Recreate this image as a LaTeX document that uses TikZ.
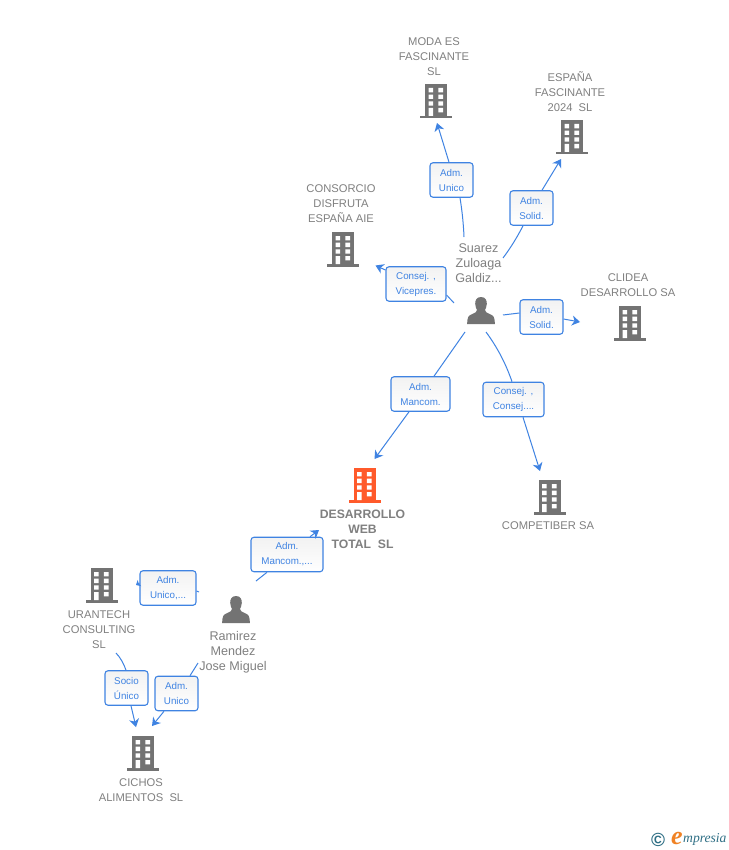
\documentclass[tikz,border=0pt]{standalone}
\usepackage{fontspec}
\setmainfont{Liberation Sans}
\newfontfamily\logofont{Liberation Serif}
\usetikzlibrary{arrows.meta}
\definecolor{iconc}{HTML}{737373}
\definecolor{orangec}{HTML}{FF5A2B}
\definecolor{txtc}{HTML}{808080}
\definecolor{linkc}{HTML}{3F83E2}
\definecolor{logot}{HTML}{2F6F85}
\definecolor{logoo}{HTML}{F08224}
\tikzset{
  pics/bldg/.style={code={
    \fill[#1] (-11,0) rectangle (11,33);
    \fill[#1] (-16,32) rectangle (16,34.5);
    \fill[white] (-7.3,4) rectangle (-2.8,8.3) (2.4,4) rectangle (7,8.3)
      (-7.3,10.6) rectangle (-2.8,15) (2.4,10.6) rectangle (7,15)
      (-7.3,17.3) rectangle (-2.8,21.7) (2.4,17.3) rectangle (7,21.7)
      (-7.3,24) rectangle (-2.8,32) (2.4,24) rectangle (7,28.3);
  }},
  pics/persona/.style={code={
    \fill[iconc] (0,0) .. controls (4.5,0) and (6,3.5) .. (5.8,7)
      .. controls (5.5,10) and (4.6,12) .. (4,13)
      .. controls (4,15) and (6,16) .. (9,17.2)
      .. controls (12.5,18.5) and (13.8,20) .. (13.8,27)
      -- (-13.8,27)
      .. controls (-13.8,20) and (-12.5,18.5) .. (-9,17.2)
      .. controls (-6,16) and (-4,15) .. (-4,13)
      .. controls (-4.6,12) and (-5.5,10) .. (-5.8,7)
      .. controls (-6,3.5) and (-4.5,0) .. (0,0) -- cycle;
  }},
  caption/.style={text=txtc,align=center,inner sep=0pt,font=\fontsize{11.2}{15}\selectfont},
  personcap/.style={text=txtc,align=center,inner sep=0pt,font=\fontsize{12.6}{15}\selectfont},
  maincap/.style={text=txtc,align=center,inner sep=0pt,font=\fontsize{12.2}{15}\selectfont\bfseries},
  rolebox/.style={draw=linkc,line width=1.1pt,rounded corners=3pt,top color=black!5,bottom color=white,
    text=linkc,align=center,inner sep=0pt,font=\fontsize{9.8}{15}\selectfont},
  link/.style={draw=linkc,line width=1pt},
  arrowlink/.style={link,-{Stealth[length=8pt,width=10pt,inset=2.5pt]}},
}
\begin{document}
\begin{tikzpicture}[x=1pt,y=-1pt]
\useasboundingbox (0,0) rectangle (728,850);
\fill[white] (0,0) rectangle (728,850);
% icons
\pic at (436,84) {bldg={iconc}};
\pic at (572,120) {bldg={iconc}};
\pic at (343,232) {bldg={iconc}};
\pic at (630,306) {bldg={iconc}};
\pic at (364.5,468) {bldg={orangec}};
\pic at (549.5,480) {bldg={iconc}};
\pic at (101.5,568) {bldg={iconc}};
\pic at (143,736) {bldg={iconc}};
\pic at (481,297) {persona};
\pic at (236,596) {persona};
% captions
\node[caption] (moda) at (434,56.5) {MODA ES\\FASCINANTE\\SL};
\node[caption] (espana) at (570,91.5) {ESPAÑA\\FASCINANTE\\2024\ \ SL};
\node[caption] (consorcio) at (341,203.5) {CONSORCIO\\DISFRUTA\\ESPAÑA AIE};
\node[caption] (clidea) at (628,285) {CLIDEA\\DESARROLLO SA};
\node[maincap] (desarrollo) at (362.5,529) {DESARROLLO\\WEB\\TOTAL\ \ SL};
\node[caption] (competiber) at (548,526) {COMPETIBER SA};
\node[caption] (urantech) at (99,629.5) {URANTECH\\CONSULTING\\SL};
\node[caption] (cichos) at (141,790) {CICHOS\\ALIMENTOS\ \ SL};
\node[personcap] (suarez) at (478.5,263) {Suarez\\Zuloaga\\Galdiz...};
\node[personcap] (ramirez) at (233,652) {Ramirez\\Mendez\\Jose Miguel};
% role boxes
\node[rolebox,minimum width=43pt,minimum height=34.5pt] (r1) at (451.5,180) {Adm.\\Unico};
\node[rolebox,minimum width=43pt,minimum height=34.5pt] (r2) at (531.5,208) {Adm.\\Solid.};
\node[rolebox,minimum width=60pt,minimum height=34.5pt] (r3) at (416,284) {Consej. ,\\Vicepres.};
\node[rolebox,minimum width=43pt,minimum height=34.5pt] (r4) at (541.5,317) {Adm.\\Solid.};
\node[rolebox,minimum width=59pt,minimum height=34.5pt] (r5) at (420.5,394) {Adm.\\Mancom.};
\node[rolebox,minimum width=61pt,minimum height=34.5pt] (r6) at (513.5,399.5) {Consej. ,\\Consej....};
\node[rolebox,minimum width=72pt,minimum height=34.5pt] (r7) at (287,554.5) {Adm.\\Mancom.,...};
\node[rolebox,minimum width=56pt,minimum height=34.5pt] (r8) at (168,588) {Adm.\\Unico,...};
\node[rolebox,minimum width=43pt,minimum height=34.5pt] (r9) at (126.5,688) {Socio\\Único};
\node[rolebox,minimum width=43pt,minimum height=34.5pt] (r10) at (176.5,693.5) {Adm.\\Unico};
% free ends
\coordinate (s1) at (464,237); \coordinate (t1) at (437,123);
\coordinate (s2) at (503,258); \coordinate (t2) at (561,159);
\coordinate (s3) at (454,303); \coordinate (t3) at (375.5,265.5);
\coordinate (s4) at (503,315); \coordinate (t4) at (580,322);
\coordinate (s5) at (465,332); \coordinate (t5) at (374.5,459);
\coordinate (s6) at (486,332); \coordinate (t6) at (540,471);
\coordinate (s7) at (256,581); \coordinate (t7) at (319,530);
\coordinate (s8) at (199,592); \coordinate (t8) at (136,585);
\coordinate (s9) at (116,653); \coordinate (t9) at (136,727);
\coordinate (s10) at (198,663); \coordinate (t10) at (152,726);
% connectors
\draw[link] (s1) .. controls (463.5,224) and (462,210) .. ([xshift=8.5pt]r1.south);
\draw[arrowlink] ([xshift=-2.5pt]r1.north) -- (t1);
\draw[link] (s2) .. controls (510.5,248) and (517,237.5) .. ([xshift=-8.5pt]r2.south);
\draw[arrowlink] ([xshift=10.5pt]r2.north) -- (t2);
\draw[link] (s3) -- ([yshift=-11pt]r3.east);
\draw[arrowlink] ([yshift=14pt]r3.west) -- (t3);
\draw[link] (s4) -- ([yshift=4pt]r4.west);
\draw[arrowlink] ([yshift=-2pt]r4.east) -- (t4);
\draw[link] (s5) -- ([xshift=13.5pt]r5.north);
\draw[arrowlink] ([xshift=-11.5pt]r5.south) -- (t5);
\draw[link] (s6) .. controls (497.3,347.3) and (505.9,363.8) .. ([xshift=-1.5pt]r6.north);
\draw[arrowlink] ([xshift=9.5pt]r6.south) -- (t6);
\draw[link] (s7) -- ([xshift=-20pt]r7.south);
\draw[arrowlink] ([xshift=23pt]r7.north) -- (t7);
\draw[link] (s8) -- ([yshift=-3pt]r8.east);
\draw[link,-{Stealth[length=4pt,width=7pt,inset=1pt]}] ([yshift=5pt]r8.west) -- (t8);
\draw[link] (s9) .. controls (120,657) and (124,664) .. ([xshift=-0.5pt]r9.north);
\draw[arrowlink] ([xshift=4.5pt]r9.south) -- (t9);
\draw[link] (s10) -- ([xshift=13.5pt]r10.north);
\draw[arrowlink] ([xshift=-12.5pt]r10.south) -- (t10);
% logo
\node[inner sep=0pt,text=logot,font=\bfseries\fontsize{19}{19}\selectfont] (copy) at (658,839.5) {©};
\node[inner sep=0pt,text=logoo,font=\logofont\itshape\bfseries\fontsize{26}{26}\selectfont] (loge) at (677,838) {e};
\node[inner sep=0pt,anchor=west,text=logot,font=\logofont\itshape\fontsize{13.6}{15}\selectfont] (logm) at (683,839.5) {mpresia};
\end{tikzpicture}
\end{document}
